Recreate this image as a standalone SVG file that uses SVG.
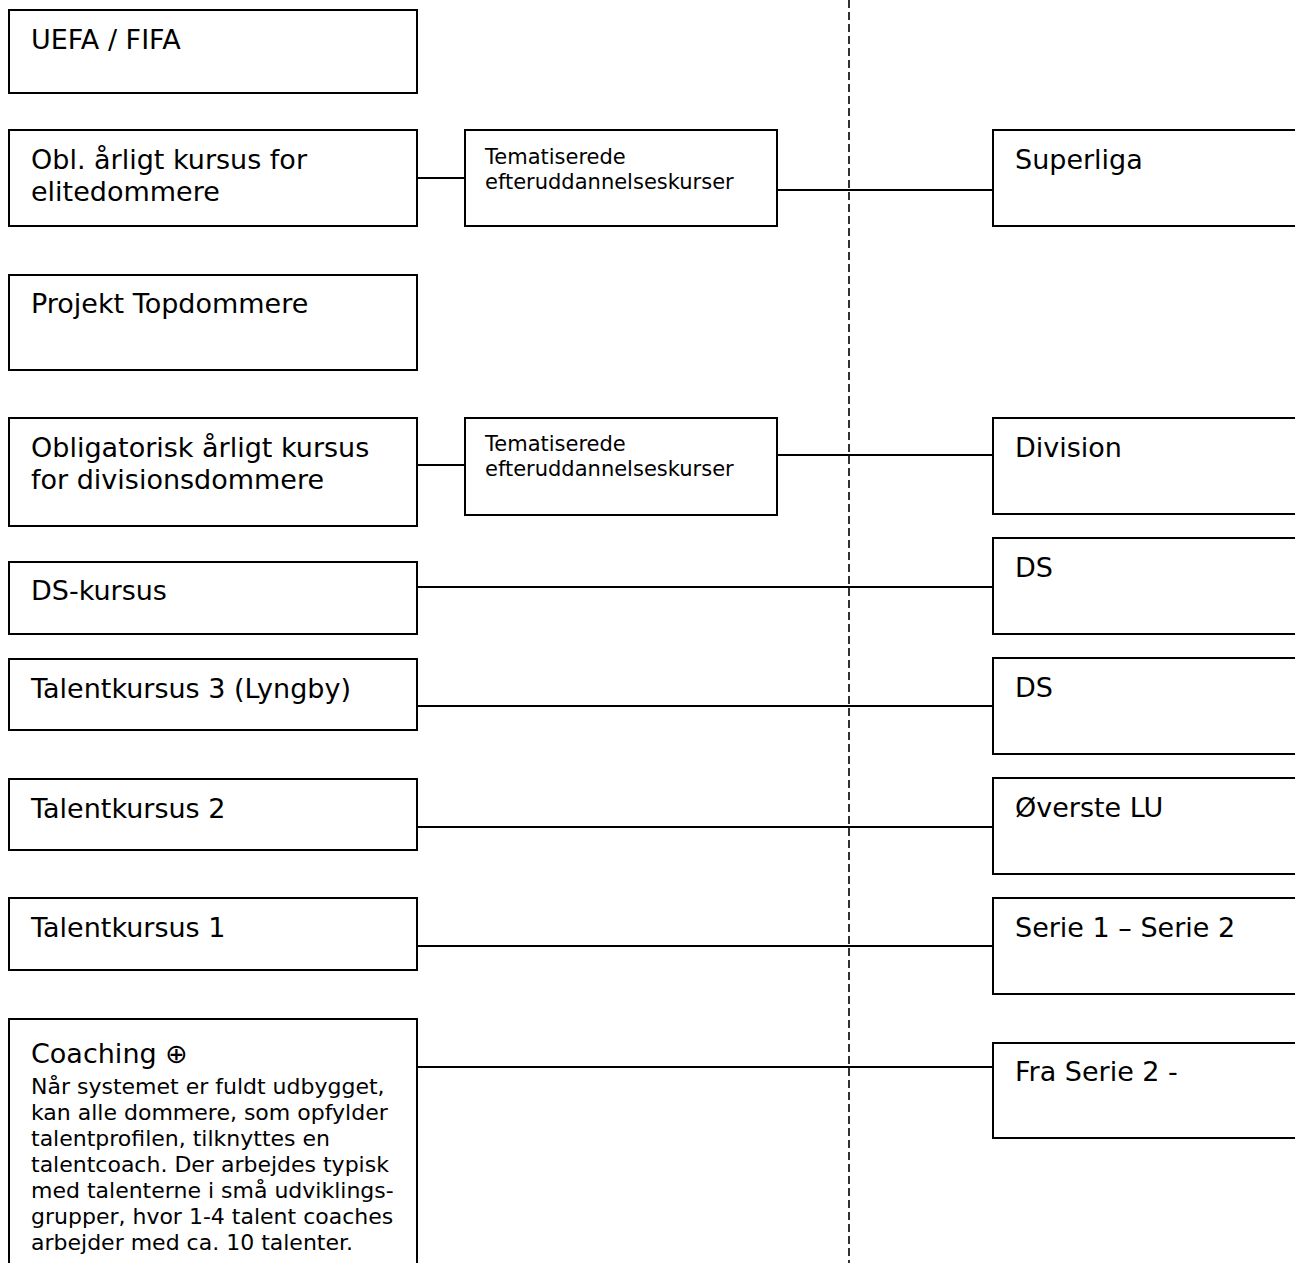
<svg xmlns="http://www.w3.org/2000/svg" width="1295" height="1263" viewBox="0 0 1295 1263">
<style>
.box{fill:#fff;stroke:#000;stroke-width:2}
.t{font-family:"DejaVu Sans",Verdana,sans-serif;font-size:27px;fill:#000}
.s{font-family:"DejaVu Sans",Verdana,sans-serif;font-size:21px;fill:#000}
.b{font-family:"DejaVu Sans",Verdana,sans-serif;font-size:22px;fill:#000}
.c{stroke:#000;stroke-width:1.8;fill:none}
.d{stroke:#000;stroke-width:1.6;stroke-dasharray:8 4;fill:none}
</style>
<rect width="1295" height="1263" fill="#fff"/>
<g id="divider"><line class="d" x1="849" y1="0" x2="849" y2="1263"/></g>
<g id="connectors">
<line class="c" x1="417" y1="178" x2="465" y2="178"/>
<line class="c" x1="777" y1="190" x2="993" y2="190"/>
<line class="c" x1="417" y1="465" x2="465" y2="465"/>
<line class="c" x1="777" y1="455" x2="993" y2="455"/>
<line class="c" x1="417" y1="587" x2="993" y2="587"/>
<line class="c" x1="417" y1="706" x2="993" y2="706"/>
<line class="c" x1="417" y1="827" x2="993" y2="827"/>
<line class="c" x1="417" y1="946" x2="993" y2="946"/>
<line class="c" x1="417" y1="1067" x2="993" y2="1067"/>
</g>
<g id="uefa"><rect class="box" x="9" y="10" width="408" height="83"/><text class="t" x="31" y="49">UEFA / FIFA</text></g>
<g id="obl-elite"><rect class="box" x="9" y="130" width="408" height="96"/><text class="t" x="31" y="169">Obl. årligt kursus for</text><text class="t" x="31" y="201">elitedommere</text></g>
<g id="topdommere"><rect class="box" x="9" y="275" width="408" height="95"/><text class="t" x="31" y="313">Projekt Topdommere</text></g>
<g id="obl-div"><rect class="box" x="9" y="418" width="408" height="108"/><text class="t" x="31" y="457">Obligatorisk årligt kursus</text><text class="t" x="31" y="489">for divisionsdommere</text></g>
<g id="ds-kursus"><rect class="box" x="9" y="562" width="408" height="72"/><text class="t" x="31" y="600">DS-kursus</text></g>
<g id="talent3"><rect class="box" x="9" y="659" width="408" height="71"/><text class="t" x="31" y="698">Talentkursus 3 (Lyngby)</text></g>
<g id="talent2"><rect class="box" x="9" y="779" width="408" height="71"/><text class="t" x="31" y="818">Talentkursus 2</text></g>
<g id="talent1"><rect class="box" x="9" y="898" width="408" height="72"/><text class="t" x="31" y="937">Talentkursus 1</text></g>
<g id="coaching"><path class="box" d="M9,1266 V1019 H417 V1266"/>
<text class="t" x="31" y="1063">Coaching ⊕</text>
<text class="b" x="31" y="1094">Når systemet er fuldt udbygget,</text>
<text class="b" x="31" y="1120">kan alle dommere, som opfylder</text>
<text class="b" x="31" y="1146">talentprofilen, tilknyttes en</text>
<text class="b" x="31" y="1172">talentcoach. Der arbejdes typisk</text>
<text class="b" x="31" y="1198">med talenterne i små udviklings-</text>
<text class="b" x="31" y="1224">grupper, hvor 1-4 talent coaches</text>
<text class="b" x="31" y="1250">arbejder med ca. 10 talenter.</text>
</g>
<g id="tema1"><rect class="box" x="465" y="130" width="312" height="96"/><text class="s" x="485" y="164">Tematiserede</text><text class="s" x="485" y="189">efteruddannelseskurser</text></g>
<g id="tema2"><rect class="box" x="465" y="418" width="312" height="97"/><text class="s" x="485" y="451">Tematiserede</text><text class="s" x="485" y="476">efteruddannelseskurser</text></g>
<g id="superliga"><path class="box" d="M1298,130 H993 V226 H1298"/><text class="t" x="1015" y="169">Superliga</text></g>
<g id="division"><path class="box" d="M1298,418 H993 V514 H1298"/><text class="t" x="1015" y="457">Division</text></g>
<g id="ds1"><path class="box" d="M1298,538 H993 V634 H1298"/><text class="t" x="1015" y="577">DS</text></g>
<g id="ds2"><path class="box" d="M1298,658 H993 V754 H1298"/><text class="t" x="1015" y="697">DS</text></g>
<g id="overste-lu"><path class="box" d="M1298,778 H993 V874 H1298"/><text class="t" x="1015" y="817">Øverste LU</text></g>
<g id="serie1-2"><path class="box" d="M1298,898 H993 V994 H1298"/><text class="t" x="1015" y="937">Serie 1 – Serie 2</text></g>
<g id="fra-serie2"><path class="box" d="M1298,1043 H993 V1138 H1298"/><text class="t" x="1015" y="1081">Fra Serie 2 -</text></g>
</svg>
